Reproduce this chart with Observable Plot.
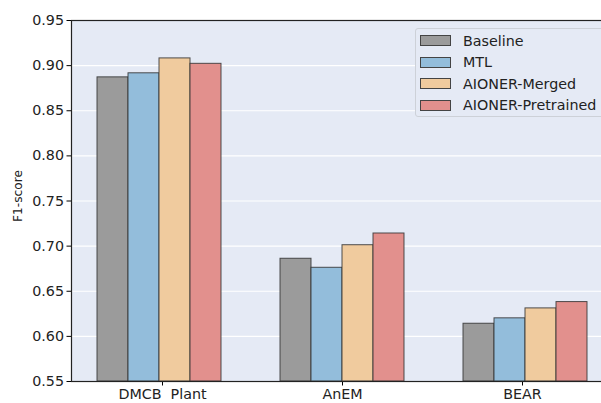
<!DOCTYPE html>
<html><head><meta charset="utf-8">
<script src="https://cdn.jsdelivr.net/npm/d3@7"></script>
<script src="https://cdn.jsdelivr.net/npm/@observablehq/plot@0.6"></script>
<style>
html,body{margin:0;padding:0;background:#fff;}
#wrap{position:relative;width:601px;height:403px;overflow:hidden;font-family:"DejaVu Sans",sans-serif;}
#wrap svg{position:absolute;left:0;top:0;max-width:none !important;width:614px;height:403px;}
#wrap svg text{white-space:pre;}
#ylabel{position:absolute;left:17.5px;top:196px;transform:translate(-50%,-50%) rotate(-90deg);font-size:12.2px;color:#222;white-space:nowrap;line-height:1;}
#legend{position:absolute;left:415px;top:28px;width:200px;height:89px;box-sizing:border-box;background:#e5eaf5;border:1px solid #cdd1d8;border-radius:3px;padding-top:1px;}
.row{height:21.5px;display:flex;align-items:center;font-size:14.3px;color:#222;}
.sw{width:29px;height:9px;margin-left:4px;margin-right:12px;border:1px solid #444;}
</style></head><body><div id="wrap"></div>
<script>
const datasets = ["DMCB  Plant", "AnEM", "BEAR"];
const methods = ["Baseline", "MTL", "AIONER-Merged", "AIONER-Pretrained"];
const baseline = [0.887, 0.686, 0.614];
const mtl = [0.8915, 0.676, 0.620];
const merged = [0.908, 0.701, 0.631];
const pretrained = [0.902, 0.714, 0.638];
const colors = ["#9b9b9b", "#93bddb", "#f0cb9e", "#e2908d"];
const yDomain = [0.55, 0.95];
const yTicks = [0.55, 0.60, 0.65, 0.70, 0.75, 0.80, 0.85, 0.90, 0.95];
const yLabel = "F1-score";

const series = [baseline, mtl, merged, pretrained];
const data = datasets.flatMap((d, i) => methods.map((m, j) => ({dataset: d, method: m, value: series[j][i]})));

const common = {
  width: 614, height: 403,
  marginLeft: 71, marginRight: 1, marginTop: 20, marginBottom: 22,
  style: {fontFamily: "DejaVu Sans", fontSize: "14.3px", color: "#222", background: "transparent", overflow: "visible", maxWidth: "none"},
  y: {domain: yDomain, label: null}
};

// base layer: background, grid, axes
const base = Plot.plot({
  ...common,
  x: {domain: datasets, paddingInner: 0.325, paddingOuter: 0.1375, label: null},
  marks: [
    Plot.frame({fill: "#e5eaf5"}),
    Plot.gridY(yTicks.slice(1, -1), {stroke: "white", strokeOpacity: 1, strokeWidth: 1.2}),
    Plot.axisY({ticks: yTicks, tickFormat: d3.format(".2f"), tickSize: 4.5, tickPadding: 3, label: null, stroke: "#000"}),
    Plot.axisX({anchor: "bottom", tickSize: 4.5, tickPadding: 3, label: null, stroke: "#000"})
  ]
});

// bar layer: grouped bars by facet
const bars = Plot.plot({
  ...common,
  fx: {domain: datasets, paddingInner: 0.325, paddingOuter: 0.1375, axis: null, label: null},
  x: {domain: methods, padding: 0, axis: null},
  y: {domain: yDomain, axis: null},
  color: {domain: methods, range: colors},
  marks: [
    Plot.barY(data, {fx: "dataset", x: "method", y1: yDomain[0], y2: "value", fill: "method", stroke: "#333", strokeWidth: 1, strokeOpacity: 0.85})
  ]
});

// spines layer
const spines = Plot.plot({
  ...common,
  x: {domain: datasets, axis: null},
  y: {domain: yDomain, axis: null},
  marks: [
    Plot.frame({stroke: "#222", strokeWidth: 1.2})
  ]
});

const wrap = document.getElementById("wrap");
wrap.appendChild(base);
wrap.appendChild(bars);
wrap.appendChild(spines);
const yl = document.createElement("div");
yl.id = "ylabel";
yl.textContent = yLabel;
wrap.appendChild(yl);
const leg = document.createElement("div");
leg.id = "legend";
methods.forEach((m, i) => {
  const r = document.createElement("div");
  r.className = "row";
  const s = document.createElement("span");
  s.className = "sw";
  s.style.background = colors[i];
  r.appendChild(s);
  r.appendChild(document.createTextNode(m));
  leg.appendChild(r);
});
wrap.appendChild(leg);
</script></body></html>
